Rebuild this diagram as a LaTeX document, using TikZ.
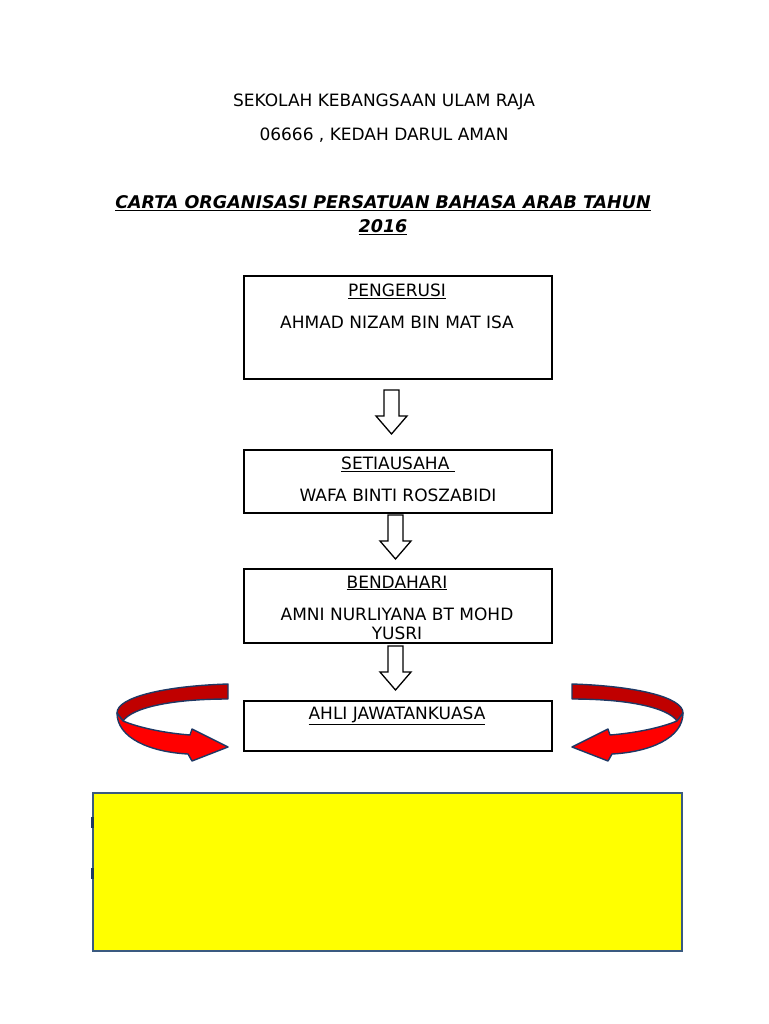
\documentclass[tikz,border=0pt]{standalone}
\usepackage{fontspec}
\setmainfont{DejaVu Sans}
\usetikzlibrary{positioning}
\definecolor{ribdark}{HTML}{C00000}
\definecolor{ribred}{HTML}{FF0000}
\definecolor{ribline}{HTML}{1F3864}
\definecolor{boxline}{HTML}{3A5A80}
\definecolor{note}{HTML}{FFFF00}
\tikzstyle{post}  =[draw, line width=2pt, minimum width=308pt,
                    inner sep=0pt, outer sep=0pt]
\tikzstyle{txt}   =[inner sep=0pt, font=\fontsize{17}{20}\selectfont]
\tikzstyle{head}  =[inner sep=0pt, font=\fontsize{17.5}{21}\selectfont\bfseries\itshape]
\tikzstyle{down}  =[draw, line width=1.3pt, line join=miter, fill=white]
\tikzstyle{ribbon}=[draw=ribline, line width=1.4pt, line join=round]

\begin{document}
\begin{tikzpicture}[x=1pt, y=-1pt]
  \useasboundingbox (0,0) rectangle (768,1024);
  % heading
  \node[txt] (school) at (384,102) {SEKOLAH KEBANGSAAN ULAM RAJA};
  \node[txt] (place) at (384,135) {06666 , KEDAH DARUL AMAN};
  \node[head] (title) at (383,203) {\underline{CARTA ORGANISASI PERSATUAN BAHASA ARAB TAHUN}};
  \node[head] (year) at (383,227) {\underline{2016}};
  % posts
  \node[post, minimum height=103pt] (p1) at (398,327.5) {};
  \node[post, minimum height=63pt]  (p2) at (398,481.5) {};
  \node[post, minimum height=74pt]  (p3) at (398,606) {};
  \node[post, minimum height=50pt]  (p4) at (398,726) {};
  \node[txt] (p1a) at (397,291) {\underline{PENGERUSI}};
  \node[txt] (p1b) at (397,322) {AHMAD NIZAM BIN MAT ISA};
  \node[txt] (p2a) at (398,464) {\underline{SETIAUSAHA\ }};
  \node[txt] (p2b) at (398,495) {WAFA BINTI ROSZABIDI};
  \node[txt] (p3a) at (397,583) {\underline{BENDAHARI}};
  \node[txt] (p3b) at (397,614) {AMNI NURLIYANA BT MOHD};
  \node[txt] (p3c) at (397,633) {YUSRI};
  \node[txt] (p4a) at (397,716) {\underline{AHLI JAWATANKUASA}};
  % block arrows
  \foreach \x/\y in {391.5/390, 395.5/515, 395.5/646}{
    \draw[down] (\x-7.5,\y) -- ++(15,0) -- ++(0,26) -- ++(8,0) -- (\x,\y+44)
        -- (\x-15.5,\y+26) -- ++(8,0) -- cycle;
  }
  % curved arrows
  \foreach \s/\o in {1/0,-1/800}{
    \begin{scope}[xshift=\o pt, xscale=\s]
      \draw[ribbon, fill=ribdark] (228,684) .. controls (165,686) and (117,697) .. (117,713)
          -- (123,721) .. controls (132,708) and (170,699) .. (228,699) -- cycle;
      \draw[ribbon, fill=ribred] (117,713) .. controls (117,738) and (150,752) .. (188,754)
          -- (192,761) -- (228,747) -- (192,729) -- (190,735)
          .. controls (165,733) and (140,728) .. (123,721) -- cycle;
    \end{scope}
  }
  % members
  \node[draw=boxline, fill=note, line width=1.5pt, minimum width=589pt,
        minimum height=158pt, inner sep=0pt] (members) at (387.5,872) {};
  \fill[ribline] (91,817) rectangle (94,828);
  \fill[ribline] (91,868) rectangle (94,879);
\end{tikzpicture}
\end{document}
